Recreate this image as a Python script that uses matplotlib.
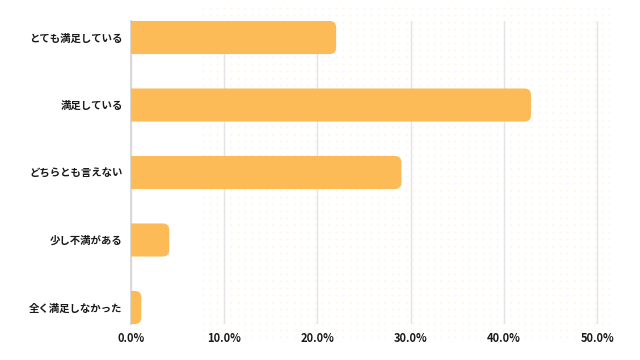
import numpy as np
import matplotlib.pyplot as plt
from matplotlib.patches import FancyBboxPatch
from matplotlib.ticker import PercentFormatter

plt.rcParams['font.family'] = ['Noto Sans CJK JP', 'DejaVu Sans']

categories = ['とても満足している', '満足している', 'どちらとも言えない', '少し不満がある', '全く満足しなかった']
values = [22.0, 42.9, 29.0, 4.1, 1.1]
bar_color = '#fdbb58'

fig = plt.figure(figsize=(6.4, 3.6), dpi=100)
ax = fig.add_axes([131 / 640, 1 - 324 / 360, (597 - 131) / 640 / 0.98, (324 - 21) / 360])
ax.set_facecolor('none')

# faint dotted backdrop
gx, gy = np.meshgrid(np.arange(203, 615, 7), np.arange(8, 338, 7))
fig.patches.append(plt.Rectangle((0, 0), 1, 1, transform=fig.transFigure, color='white', zorder=-10))
fig.add_artist(plt.Line2D(gx.ravel() / 640, 1 - gy.ravel() / 360, transform=fig.transFigure,
                          ls='none', marker='o', ms=1.5, mec='none', mfc='#fef5e8', zorder=-5))

y = np.arange(len(categories))
bars = ax.barh(y, values, height=0.49, color=bar_color)

# swap plain bars for ones with rounded right ends
for b in bars:
    x0, y0, w, h = b.get_x(), b.get_y(), b.get_width(), b.get_height()
    b.remove()
    ax.add_patch(FancyBboxPatch((x0 - 1.5, y0), w + 1.5, h,
                                boxstyle='round,pad=0,rounding_size=0.7',
                                mutation_aspect=0.135, fc=bar_color, ec='none', zorder=3))

ax.set_xlim(0, 51)
ax.set_ylim(len(categories) - 1 + 0.245, -0.245)
ax.set_xticks(np.arange(0, 51, 10))
ax.xaxis.set_major_formatter(PercentFormatter(decimals=1))
ax.set_yticks(y)
ax.set_yticklabels(categories)

ax.grid(axis='x', color='#e4e4e4', lw=1)
ax.set_axisbelow(True)
for s in ['top', 'right', 'bottom']:
    ax.spines[s].set_visible(False)
ax.spines['left'].set_color('#d9d9d9')
ax.spines['left'].set_linewidth(1.5)
ax.tick_params(length=0)
ax.tick_params(axis='y', pad=6, labelsize=7.5, labelcolor='#1a1a1a')
ax.tick_params(axis='x', pad=6, labelsize=8, labelcolor='#1a1a1a')
for t in ax.get_xticklabels():
    t.set_fontweight('bold')
for t in ax.get_yticklabels():
    t.set_fontweight('bold')

fig.savefig('out.png', dpi=100)
